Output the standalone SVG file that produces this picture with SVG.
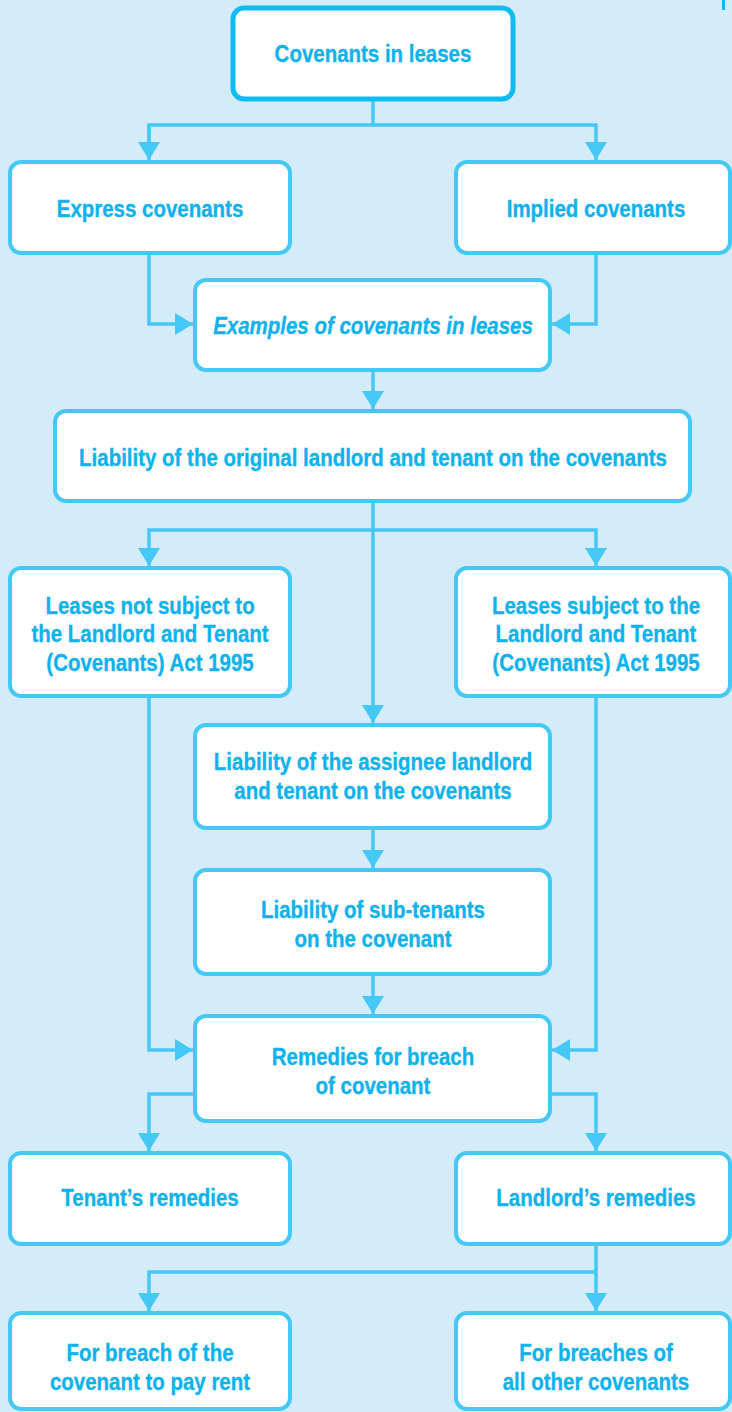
<svg xmlns="http://www.w3.org/2000/svg" width="732" height="1412" viewBox="0 0 732 1412">
  <defs>
    <marker id="arrow" markerUnits="userSpaceOnUse" markerWidth="20" markerHeight="24" viewBox="0 0 20 24" refX="18" refY="12" orient="auto">
      <path d="M0,1 L18,12 L0,23 Z" fill="#45c8f5"/>
    </marker>
    <style>
      .box { fill: #ffffff; stroke: #45c8f5; stroke-width: 4; }
      .top { fill: #ffffff; stroke: #0dbcf1; stroke-width: 5; }
      .lbl { font-family: "Liberation Sans", Arial, sans-serif; font-weight: bold; font-size: 23px; fill: #0fb2ec; stroke: #0fb2ec; stroke-width: 0.35; text-anchor: middle; }
      .it { font-style: italic; }
      .conn { fill: none; stroke: #45c8f5; stroke-width: 3.5; }
      .arr { marker-end: url(#arrow); }
    </style>
  </defs>

  <rect x="0" y="0" width="732" height="1412" fill="#d4ecf9"/>
  <rect x="722" y="0" width="3" height="10" fill="#0dbcf1"/>

  <g id="connectors">
    <path class="conn" d="M373,99 V125 H149 V142"/>
    <path class="conn arr" d="M149,125 V160"/>
    <path class="conn arr" d="M373,125 H596 V160"/>
    <path class="conn arr" d="M149,253 V324 H193"/>
    <path class="conn arr" d="M596,253 V324 H552"/>
    <path class="conn arr" d="M373,370 V409"/>
    <path class="conn arr" d="M373,501 V530 H149 V566"/>
    <path class="conn arr" d="M373,530 H596 V566"/>
    <path class="conn arr" d="M373,530 V723"/>
    <path class="conn arr" d="M373,828 V868"/>
    <path class="conn arr" d="M373,974 V1014"/>
    <path class="conn arr" d="M149,696 V1050 H193"/>
    <path class="conn arr" d="M596,696 V1050 H552"/>
    <path class="conn arr" d="M195,1094 H149 V1151"/>
    <path class="conn arr" d="M550,1094 H596 V1151"/>
    <path class="conn arr" d="M596,1244 V1311"/>
    <path class="conn arr" d="M596,1272 H149 V1311"/>
  </g>

  <g id="covenants-in-leases">
    <rect class="top" x="233" y="8" width="280" height="91" rx="11"/>
    <text class="lbl" transform="translate(373 62) scale(0.89 1)">Covenants in leases</text>
  </g>
  <g id="express-covenants">
    <rect class="box" x="10" y="162" width="280" height="91" rx="11"/>
    <text class="lbl" transform="translate(150 217) scale(0.89 1)">Express covenants</text>
  </g>
  <g id="implied-covenants">
    <rect class="box" x="456" y="162" width="274" height="91" rx="11"/>
    <text class="lbl" transform="translate(596 217) scale(0.89 1)">Implied covenants</text>
  </g>
  <g id="examples">
    <rect class="box" x="195" y="280" width="355" height="90" rx="11"/>
    <text class="lbl it" transform="translate(373 334) scale(0.89 1)">Examples of covenants in leases</text>
  </g>
  <g id="original-liability">
    <rect class="box" x="55" y="411" width="635" height="90" rx="11"/>
    <text class="lbl" transform="translate(373 466) scale(0.89 1)">Liability of the original landlord and tenant on the covenants</text>
  </g>
  <g id="leases-not-subject">
    <rect class="box" x="10" y="568" width="280" height="128" rx="11"/>
    <text class="lbl" transform="translate(150 614) scale(0.89 1)">Leases not subject to</text>
    <text class="lbl" transform="translate(150 642) scale(0.89 1)">the Landlord and Tenant</text>
    <text class="lbl" transform="translate(150 671) scale(0.89 1)">(Covenants) Act 1995</text>
  </g>
  <g id="leases-subject">
    <rect class="box" x="456" y="568" width="274" height="128" rx="11"/>
    <text class="lbl" transform="translate(596 614) scale(0.89 1)">Leases subject to the</text>
    <text class="lbl" transform="translate(596 642) scale(0.89 1)">Landlord and Tenant</text>
    <text class="lbl" transform="translate(596 671) scale(0.89 1)">(Covenants) Act 1995</text>
  </g>
  <g id="assignee-liability">
    <rect class="box" x="195" y="725" width="355" height="103" rx="11"/>
    <text class="lbl" transform="translate(373 770) scale(0.89 1)">Liability of the assignee landlord</text>
    <text class="lbl" transform="translate(373 799) scale(0.89 1)">and tenant on the covenants</text>
  </g>
  <g id="sub-tenant-liability">
    <rect class="box" x="195" y="870" width="355" height="104" rx="11"/>
    <text class="lbl" transform="translate(373 918) scale(0.89 1)">Liability of sub-tenants</text>
    <text class="lbl" transform="translate(373 947) scale(0.89 1)">on the covenant</text>
  </g>
  <g id="remedies">
    <rect class="box" x="195" y="1016" width="355" height="105" rx="11"/>
    <text class="lbl" transform="translate(373 1065) scale(0.89 1)">Remedies for breach</text>
    <text class="lbl" transform="translate(373 1094) scale(0.89 1)">of covenant</text>
  </g>
  <g id="tenants-remedies">
    <rect class="box" x="10" y="1153" width="280" height="91" rx="11"/>
    <text class="lbl" transform="translate(150 1206) scale(0.89 1)">Tenant’s remedies</text>
  </g>
  <g id="landlords-remedies">
    <rect class="box" x="456" y="1153" width="274" height="91" rx="11"/>
    <text class="lbl" transform="translate(596 1206) scale(0.89 1)">Landlord’s remedies</text>
  </g>
  <g id="rent-breach">
    <rect class="box" x="10" y="1313" width="280" height="96" rx="11"/>
    <text class="lbl" transform="translate(150 1361) scale(0.89 1)">For breach of the</text>
    <text class="lbl" transform="translate(150 1390) scale(0.89 1)">covenant to pay rent</text>
  </g>
  <g id="other-breaches">
    <rect class="box" x="456" y="1313" width="274" height="96" rx="11"/>
    <text class="lbl" transform="translate(596 1361) scale(0.89 1)">For breaches of</text>
    <text class="lbl" transform="translate(596 1390) scale(0.89 1)">all other covenants</text>
  </g>
</svg>
